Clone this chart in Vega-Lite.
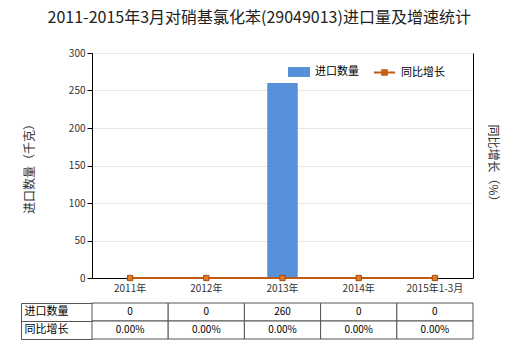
{
  "$schema": "https://vega.github.io/schema/vega-lite/v6.json",
  "padding": {"left": 20, "top": 10, "right": 5, "bottom": 5},
  "background": "white",
  "title": {
    "text": "2011-2015年3月对硝基氯化苯(29049013)进口量及增速统计",
    "fontSize": 16,
    "fontWeight": "normal",
    "font": "Noto Sans CJK SC",
    "color": "#222222",
    "anchor": "middle",
    "offset": 22
  },
  "datasets": {
    "d": [
      {"period": "2011年", "进口数量": 0, "同比增长": 0},
      {"period": "2012年", "进口数量": 0, "同比增长": 0},
      {"period": "2013年", "进口数量": 260, "同比增长": 0},
      {"period": "2014年", "进口数量": 0, "同比增长": 0},
      {"period": "2015年1-3月", "进口数量": 0, "同比增长": 0}
    ]
  },
  "config": {
    "font": "Noto Sans CJK SC",
    "view": {"stroke": null},
    "axis": {"labelFont": "Noto Sans CJK SC", "titleFont": "Noto Sans CJK SC"}
  },
  "spacing": 4,
  "resolve": {"scale": {"x": "independent"}},
  "vconcat": [
    {
      "width": 381,
      "height": 225,
      "data": {"name": "d"},
      "layer": [
        {
          "mark": {"type": "bar", "color": "#5590d9"},
          "encoding": {
            "x": {
              "field": "period", "type": "nominal", "sort": null,
              "scale": {"paddingInner": 0.6, "paddingOuter": 0.3},
              "axis": {"title": null, "ticks": false, "labelAngle": 0, "domainColor": "#000000", "labelColor": "#333333", "labelFontSize": 10, "labelPadding": 5}
            },
            "y": {
              "field": "进口数量", "type": "quantitative",
              "scale": {"domain": [0, 300]},
              "axis": {
                "values": [0, 50, 100, 150, 200, 250, 300],
                "title": "进口数量（千克）", "titleFontSize": 12, "titleFontWeight": "normal", "titleColor": "#333333", "titlePadding": 32,
                "domainColor": "#000000", "tickColor": "#000000", "tickSize": 5,
                "labelColor": "#333333", "labelFontSize": 10, "labelPadding": 2,
                "gridColor": "#e8e8e8"
              }
            },
            "fill": {
              "datum": "进口数量", "type": "nominal",
              "scale": {"domain": ["进口数量"], "range": ["#5590d9"]},
              "legend": {
                "title": null, "orient": "none", "legendX": 196, "legendY": 8,
                "symbolType": "M-1,-0.45H1V0.45H-1Z", "symbolSize": 484, "symbolStrokeWidth": 0,
                "labelFontSize": 11, "labelColor": "#000000", "labelOffset": 5, "padding": 0
              }
            }
          }
        },
        {
          "layer": [
            {
              "mark": {"type": "line", "color": "#c25a10", "strokeWidth": 2},
              "encoding": {
                "stroke": {
                  "datum": "同比增长", "type": "nominal",
                  "scale": {"domain": ["同比增长"], "range": ["#c25a10"]},
                  "legend": {
                    "title": null, "orient": "none", "legendX": 281, "legendY": 8,
                    "symbolType": "M-1,0H1M-0.22,-0.22H0.22V0.22H-0.22Z", "symbolSize": 441, "symbolStrokeWidth": 2, "symbolFillColor": "#e8893a",
                    "labelFontSize": 11, "labelColor": "#000000", "labelOffset": 5, "padding": 0
                  }
                }
              }
            },
            {
              "mark": {"type": "point", "shape": "square", "filled": true, "size": 28, "color": "#e07b2a", "stroke": "#a84a0a", "strokeWidth": 1, "opacity": 1}
            }
          ],
          "encoding": {
            "x": {"field": "period", "type": "nominal", "sort": null},
            "y": {
              "field": "同比增长", "type": "quantitative",
              "scale": {"domain": [0, 1]},
              "axis": {"orient": "right", "labels": false, "ticks": false, "grid": false, "domainColor": "#000000", "title": "同比增长（%）", "titleFontSize": 12, "titleFontWeight": "normal", "titleColor": "#333333", "titlePadding": 12, "titleAngle": 90}
            }
          }
        }
      ],
      "resolve": {"scale": {"y": "independent", "fill": "independent", "stroke": "independent"}}
    },
    {
      "width": 381,
      "height": 36,
      "data": {"name": "d"},
      "transform": [
        {"fold": ["进口数量", "同比增长"], "as": ["row", "val"]},
        {"calculate": "datum.row === '同比增长' ? format(datum.val, '.2f') + '%' : format(datum.val, 'd')", "as": "label"}
      ],
      "encoding": {
        "x": {
          "field": "period", "type": "nominal", "sort": null,
          "scale": {"paddingInner": 0, "paddingOuter": 0},
          "axis": null
        },
        "y": {
          "field": "row", "type": "nominal",
          "sort": ["进口数量", "同比增长"],
          "scale": {"paddingInner": 0, "paddingOuter": 0},
          "axis": {
            "title": null, "orient": "left", "offset": 71, "tickSize": -71,
            "bandPosition": 1, "tickExtra": true,
            "domainColor": "#555555", "tickColor": "#555555",
            "labelAlign": "left", "labelPadding": 68, "labelFontSize": 11, "labelColor": "#000000"
          }
        }
      },
      "layer": [
        {"mark": {"type": "rect", "fill": "white", "stroke": "#555555", "strokeWidth": 1}},
        {"mark": {"type": "text", "fontSize": 10, "color": "#000000"}, "encoding": {"text": {"field": "label"}}}
      ]
    }
  ]
}
